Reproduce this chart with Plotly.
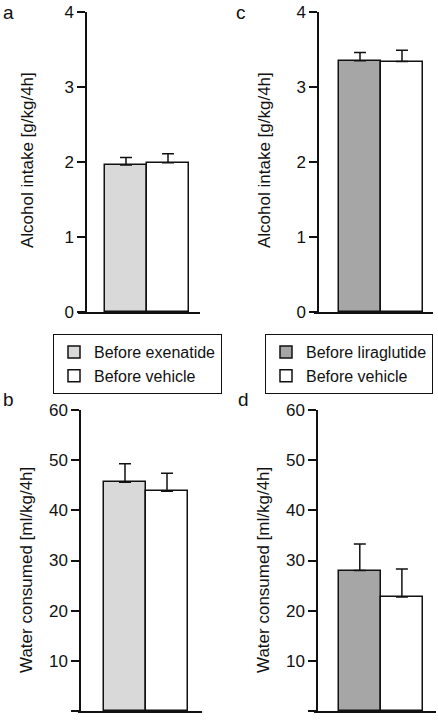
import plotly.graph_objects as go

# ---- data ----
positions = [0, 1]
legend_exenatide = ["Before exenatide", "Before vehicle"]
legend_liraglutide = ["Before liraglutide", "Before vehicle"]

alcohol_exenatide = [1.96, 1.99]
alcohol_exenatide_err = [0.10, 0.12]
water_exenatide = [45.6, 43.8]
water_exenatide_err = [3.7, 3.6]

alcohol_liraglutide = [3.35, 3.34]
alcohol_liraglutide_err = [0.11, 0.15]
water_liraglutide = [28.0, 22.7]
water_liraglutide_err = [5.3, 5.6]

alcohol_ticks = [0, 1, 2, 3, 4]
water_ticks = [0, 10, 20, 30, 40, 50, 60]

colors_exenatide = ["#d9d9d9", "#ffffff"]
colors_liraglutide = ["#a6a6a6", "#ffffff"]

W, H = 438, 720
FONT = "Liberation Sans, Arial, Helvetica, sans-serif"


def px_x(v):
    return v / W


def px_y(v):
    return 1 - v / H


fig = go.Figure()

panels = [
    (alcohol_exenatide, alcohol_exenatide_err, colors_exenatide, legend_exenatide, "x", "y", "legend", True),
    (alcohol_liraglutide, alcohol_liraglutide_err, colors_liraglutide, legend_liraglutide, "x2", "y2", "legend2", True),
    (water_exenatide, water_exenatide_err, colors_exenatide, legend_exenatide, "x3", "y3", "legend", False),
    (water_liraglutide, water_liraglutide_err, colors_liraglutide, legend_liraglutide, "x4", "y4", "legend2", False),
]

for vals, errs, cols, names, xa, ya, lg, show in panels:
    for i in range(2):
        fig.add_trace(go.Bar(
            x=[positions[i]], y=[vals[i]], width=1,
            name=names[i], legend=lg, showlegend=show,
            marker=dict(color=cols[i], line=dict(color="#111111", width=1.5)),
            error_y=dict(type="data", symmetric=False, array=[errs[i]], arrayminus=[0],
                         color="#111111", thickness=1.5, width=6),
            xaxis=xa, yaxis=ya,
        ))

axis_common = dict(showline=True, linecolor="#111111", linewidth=1.5, showgrid=False,
                   zeroline=False, mirror=False, automargin=False)
ytick_common = dict(ticks="outside", ticklen=8, tickwidth=1.5, tickcolor="#111111",
                    tickfont=dict(size=17))

fig.update_layout(
    width=W, height=H, margin=dict(l=0, r=0, t=0, b=0, autoexpand=False),
    paper_bgcolor="white", plot_bgcolor="white",
    barmode="overlay", bargap=0,
    font=dict(family=FONT, size=16, color="#111111"),
    xaxis=dict(domain=[px_x(78), px_x(200)], range=[-1.143, 1.762], anchor="y",
               showticklabels=False, ticks="", **axis_common),
    yaxis=dict(domain=[px_y(312), px_y(12)], range=[0, 4], anchor="free", position=px_x(86),
               tickvals=alcohol_ticks, **ytick_common, **axis_common),
    xaxis2=dict(domain=[px_x(314), px_x(433)], range=[-1.095, 1.738], anchor="y2",
                showticklabels=False, ticks="", **axis_common),
    yaxis2=dict(domain=[px_y(312), px_y(12)], range=[0, 4], anchor="free", position=px_x(318),
                tickvals=alcohol_ticks, **ytick_common, **axis_common),
    xaxis3=dict(domain=[px_x(78), px_x(202)], range=[-1.119, 1.833], anchor="y3",
                showticklabels=False, ticks="", **axis_common),
    yaxis3=dict(domain=[px_y(711), px_y(410)], range=[0, 60], anchor="free", position=px_x(80),
                tickvals=water_ticks, **ytick_common, **axis_common),
    xaxis4=dict(domain=[px_x(314), px_x(436)], range=[-1.088, 1.81], anchor="y4",
                showticklabels=False, ticks="", **axis_common),
    yaxis4=dict(domain=[px_y(711), px_y(410)], range=[0, 60], anchor="free", position=px_x(317),
                tickvals=water_ticks, **ytick_common, **axis_common),
    legend=dict(x=px_x(53), y=px_y(334), xanchor="left", yanchor="top",
                bgcolor="white", bordercolor="#111111", borderwidth=1,
                font=dict(size=16), tracegroupgap=0, itemwidth=30),
    legend2=dict(x=px_x(265), y=px_y(334), xanchor="left", yanchor="top",
                 bgcolor="white", bordercolor="#111111", borderwidth=1,
                 font=dict(size=16), tracegroupgap=0, itemwidth=30),
)

annotations = [
    dict(text="a", x=px_x(1), y=px_y(0), xanchor="left", yanchor="top", font=dict(size=19)),
    dict(text="c", x=px_x(234), y=px_y(0), xanchor="left", yanchor="top", font=dict(size=19)),
    dict(text="b", x=px_x(1), y=px_y(387), xanchor="left", yanchor="top", font=dict(size=19)),
    dict(text="d", x=px_x(236), y=px_y(387), xanchor="left", yanchor="top", font=dict(size=19)),
    dict(text="Alcohol intake [g/kg/4h]", x=px_x(27), y=px_y(160), textangle=-90,
         xanchor="center", yanchor="middle", font=dict(size=17)),
    dict(text="Alcohol intake [g/kg/4h]", x=px_x(264), y=px_y(160), textangle=-90,
         xanchor="center", yanchor="middle", font=dict(size=17)),
    dict(text="Water consumed [ml/kg/4h]", x=px_x(26), y=px_y(570), textangle=-90,
         xanchor="center", yanchor="middle", font=dict(size=17)),
    dict(text="Water consumed [ml/kg/4h]", x=px_x(263), y=px_y(570), textangle=-90,
         xanchor="center", yanchor="middle", font=dict(size=17)),
]
for a in annotations:
    a.update(xref="paper", yref="paper", showarrow=False)
fig.update_layout(annotations=annotations)

fig.write_html(
    "out.html",
    config={"displayModeBar": False},
    post_script="document.body.style.margin='0';document.body.style.padding='0';"
                "document.body.style.overflow='hidden';",
)
